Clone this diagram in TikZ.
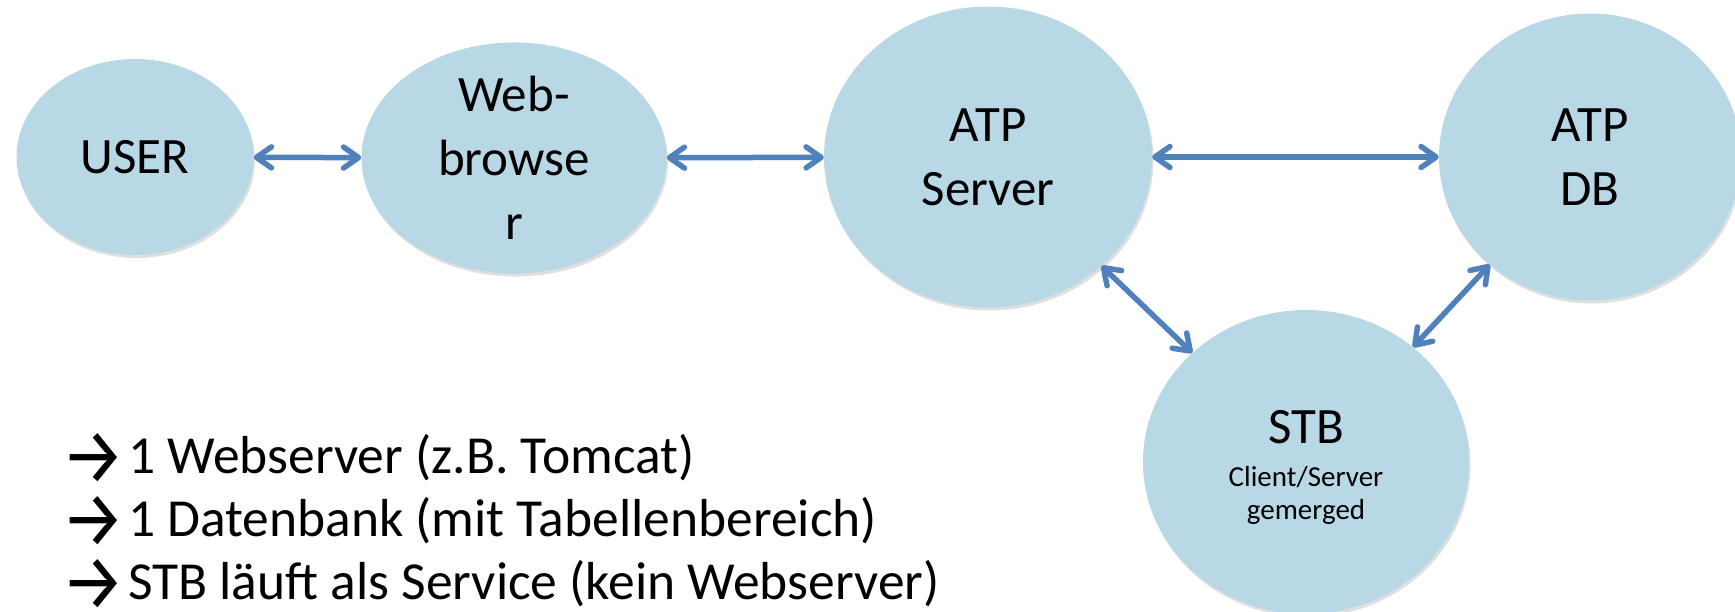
\documentclass[tikz,border=0pt]{standalone}
\usepackage{fontspec}
\setmainfont{Carlito}
\newfontfamily\arrowfont{Fira Sans}
\usetikzlibrary{shapes.geometric,arrows.meta,shadows}
\definecolor{bubfill}{RGB}{185,216,230}
\definecolor{arrblue}{RGB}{79,129,189}
\tikzset{
  bub/.style={ellipse, fill=bubfill, inner sep=0pt, align=center,
    font=\fontsize{51}{64}\selectfont,
    drop shadow={opacity=0.25, shadow xshift=1.5pt, shadow yshift=-3pt}},
  link/.style={draw=arrblue, line width=5.5pt,
    {Straight Barb[round,length=15pt,width=21pt]}-{Straight Barb[round,length=15pt,width=21pt]}},
  note/.style={anchor=base west, inner sep=0pt, font=\fontsize{53.5}{63}\selectfont},
}
\newcommand{\bularrow}{\makebox[56pt][l]{\hspace*{-11pt}\raisebox{-10pt}{\resizebox{64pt}{50pt}{\arrowfont →}}}}
\begin{document}
\begin{tikzpicture}[x=1pt,y=-1pt]
\useasboundingbox (0,0) rectangle (1735,611);
\clip (0,0) rectangle (1735,611);
\node[bub, minimum width=237pt, minimum height=196pt] (user) at (135,157) {USER};
\node[bub, minimum width=305pt, minimum height=223pt] (web) at (514,158) {Web-\\browse\\r};
\node[bub, minimum width=328pt, minimum height=301pt] (srv) at (988,157) {ATP\\Server};
\node[bub, minimum width=302pt, minimum height=287pt] (db) at (1590,157) {ATP\\DB};
\node[bub, minimum width=326pt, minimum height=304pt] (stb) at (1306,462)
  {\rule{0pt}{44pt}STB\\[-21pt]\fontsize{29}{33}\selectfont Client/Server\\[-31pt]\fontsize{29}{33}\selectfont gemerged};
\draw[link] (user) -- (web);
\draw[link] (web) -- (srv);
\draw[link] (srv) -- (db);
\draw[link] (srv) -- (stb);
\draw[link] (db) -- (stb);
\node[note] (n1) at (72,473) {\bularrow 1 Webserver (z.B. Tomcat)};
\node[note] (n2) at (72,536) {\bularrow 1 Datenbank (mit Tabellenbereich)};
\node[note] (n3) at (72,599) {\bularrow STB läuft als Service (kein Webserver)};
\end{tikzpicture}
\end{document}
